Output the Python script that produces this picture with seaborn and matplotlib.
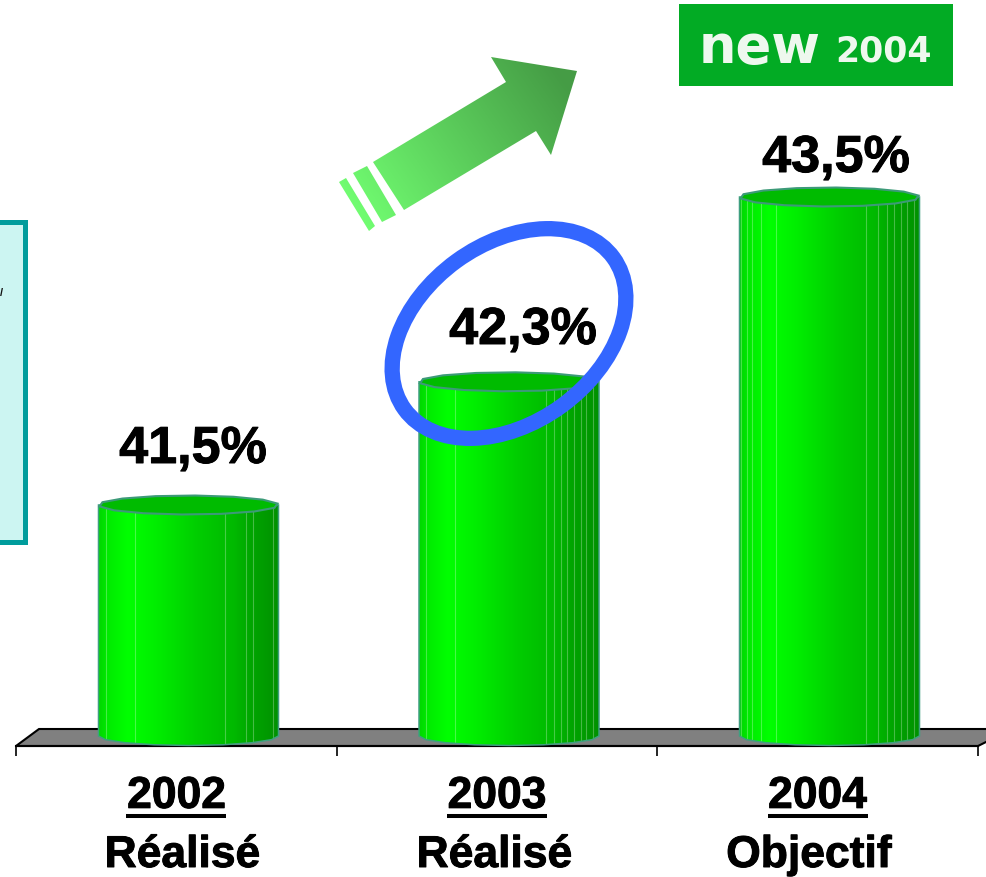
import numpy as np
import pandas as pd
import matplotlib
matplotlib.use("Agg")
import matplotlib.pyplot as plt
import matplotlib.patheffects as pe
import seaborn as sns
from matplotlib.path import Path
from matplotlib.patches import Polygon, Rectangle, Ellipse
from matplotlib.transforms import Affine2D

years = ["2002", "2003", "2004"]
statuses = ["Réalisé", "Réalisé", "Objectif"]
values = [41.5, 42.3, 43.5]
value_labels = ["41,5%", "42,3%", "43,5%"]
axis_floor = 40.0

W, H = 986, 878
sns.set_theme(style="white")
plt.rcParams["font.family"] = ["Liberation Sans", "DejaVu Sans"]
fig = plt.figure(figsize=(W / 100, H / 100), dpi=100, facecolor="white")
ax = fig.add_axes([0, 0, 1, 1], facecolor="none")
PX = Affine2D().scale(1, -1).translate(0, H)   # reference pixels -> display
HEAVY = [pe.withStroke(linewidth=0.7, foreground="black")]

df = pd.DataFrame({"year": years, "value": values})
sns.barplot(data=df, x="year", y="value", order=years, width=0.5616, ax=ax, color="#00cc00")

# scales: 320.5 px per category, 154 px per value unit
PX_X, PX_Y = 320.5, 154.0
XLIM = (-176.5 / PX_X, (W - 176.5) / PX_X)
YLIM = (41.5 - (H - 506) / PX_Y, 41.5 + 506 / PX_Y)

# gradient across a cylinder
stops_x = [0, .05, .16, .3, .55, .75, .85, 1]
stops_g = [215, 235, 255, 240, 205, 185, 165, 145]
grad = np.zeros((1, 256, 3))
grad[0, :, 1] = np.interp(np.linspace(0, 1, 256), stops_x, stops_g) / 255
facets = [.04, .2, .705, .82, .86, .967]
facet_extra = [[], [.75, .79, .9, .93], [.01, .07, .12, .77, .9, .93]]

# floor
ax.add_patch(Polygon([(16, 747), (39, 730), (1012, 730), (978, 747)], closed=True, transform=PX,
                     facecolor="#808080", edgecolor="black", lw=1.5, zorder=1))

shift = 12 / PX_X
semi = 9.5 / PX_Y
for i, bar in enumerate([p for p in ax.patches if isinstance(p, Rectangle)][:3]):
    x0 = bar.get_x() + shift
    x1 = x0 + bar.get_width()
    top = bar.get_height()
    bar.set_visible(False)
    xm, xr = (x0 + x1) / 2, (x1 - x0) / 2
    t = np.linspace(np.pi, 2 * np.pi, 9)
    low = np.column_stack([xm + xr * np.cos(t), axis_floor + semi * np.sin(t)])
    verts = np.vstack([[(x0, top)], low, [(x1, top)], [(x0, top)]])
    clip = Path(verts)
    im = ax.imshow(grad, extent=[x0, x1, axis_floor - semi, top], aspect="auto",
                   interpolation="bilinear", zorder=2)
    im.set_clip_path(clip, ax.transData)
    for f in facets + facet_extra[i]:
        xf = x0 + f * (x1 - x0)
        ln, = ax.plot([xf, xf], [axis_floor - semi, top], color="white", alpha=.28, lw=.8, zorder=2.1)
        ln.set_clip_path(clip, ax.transData)
    ax.add_patch(Polygon(verts, closed=True, fill=False, edgecolor="#3f9f80", lw=1.1, zorder=2.2))
    t = np.linspace(0, 2 * np.pi, 15)[:-1] + .15
    ax.add_patch(Polygon(np.column_stack([xm + xr * np.cos(t), top + semi * np.sin(t)]), closed=True,
                         facecolor="#00bb00", edgecolor="#3c9a78", lw=1.5, zorder=2.3))

# axis: spine sits on the front of the floor, ticks between categories
ax.set_xlim(*XLIM)
ax.set_ylim(*YLIM)
ax.set_xlabel("")
ax.set_ylabel("")
ax.yaxis.set_visible(False)
for s in ("top", "left", "right"):
    ax.spines[s].set_visible(False)
ax.spines["bottom"].set_position(("data", 41.5 - (747 - 506) / PX_Y))
ax.spines["bottom"].set_bounds(-0.5, 2.5)
ax.spines["bottom"].set_linewidth(1.5)
ax.spines["bottom"].set_color("black")
ax.spines["bottom"].set_zorder(2.05)
ax.set_xticks(range(3), years)
ax.set_xticks([-0.5, 0.5, 1.5, 2.5], minor=True)
ax.tick_params(axis="x", which="major", length=0, pad=21.5, labelsize=32)
ax.tick_params(axis="x", which="minor", length=7.5, width=1.2, color="black", bottom=True)
for lab in ax.get_xticklabels():
    lab.set_fontweight("bold")
    lab.set_color("black")
    lab.set_path_effects(HEAVY)

# underlines under the years and status labels
for cx, status, sx in zip([175.5, 497, 818], statuses, [182.5, 494.5, 809]):
    ax.plot([cx - 50, cx + 50], [817, 817], color="black", lw=2.9, transform=PX, solid_capstyle="butt", zorder=3)
    ax.text(sx, 868, status, transform=PX, ha="center", va="baseline", fontsize=32, fontweight="bold",
            color="black", zorder=6, path_effects=HEAVY)

# arrow with gradient
l, r, t_, b = 335, 580, 55, 235
xx, yy = np.meshgrid(np.arange(l, r), np.arange(t_, b))
tt = np.clip((((xx - 345) * .82 + (yy - 205) * -.57)) / 250, 0, 1)
c0, c1 = np.array([0x72, 0xff, 0x72]), np.array([0x45, 0x9c, 0x45])
arr = (c0[None, None, :] * (1 - tt[..., None]) + c1[None, None, :] * tt[..., None]) / 255
shapes = [[(373, 163), (506, 83), (491, 58), (577, 72), (551, 156), (536, 132), (404, 211)],
          [(353, 174), (367, 167), (396, 216), (382, 223)],
          [(339, 183), (346, 179), (375, 227), (369, 232)]]
codes, pts = [], []
for s in shapes:
    pts += s + [s[0]]
    codes += [Path.MOVETO] + [Path.LINETO] * (len(s) - 1) + [Path.CLOSEPOLY]
im = ax.imshow(arr, extent=(l, r, b, t_), origin="upper", transform=PX, aspect="auto", zorder=3)
im.set_clip_path(Path(pts, codes), PX)

# badge
ax.add_patch(Rectangle((679, 5), 274, 82, transform=PX, facecolor="#02ab24", edgecolor="none", zorder=3))
ax.text(699, 63, "new", transform=PX, fontsize=38, family="DejaVu Sans", fontweight="bold", color="#eef8ee", va="baseline", zorder=4)
ax.text(932, 62, "2004", transform=PX, fontsize=25, family="DejaVu Sans", fontweight="bold", color="#eef8ee", ha="right", va="baseline", zorder=4)

# left box with the sliver of text that reaches the frame edge
ax.add_patch(Rectangle((-20, 223), 45, 320, transform=PX, facecolor="#ccf5f2", edgecolor="#009c9c", lw=3.6, zorder=3))
ax.text(0, 296, "/", transform=PX, ha="left", va="baseline", fontsize=8, fontweight="bold", color="#111111", zorder=4)

# blue ring
ax.add_patch(Ellipse((509, 334.5), 258, 179, angle=-36, transform=PX, fill=False, edgecolor="#3366ff", lw=11, zorder=5))

# value labels
for txt, cx, base in zip(value_labels, [193, 523, 836], [464, 345, 173]):
    ax.text(cx, base, txt, transform=PX, ha="center", va="baseline", fontsize=37.5, fontweight="bold",
            color="black", zorder=6, path_effects=HEAVY)

ax.set_xlim(*XLIM)
ax.set_ylim(*YLIM)
fig.savefig("out.png", dpi=100, facecolor="white")
